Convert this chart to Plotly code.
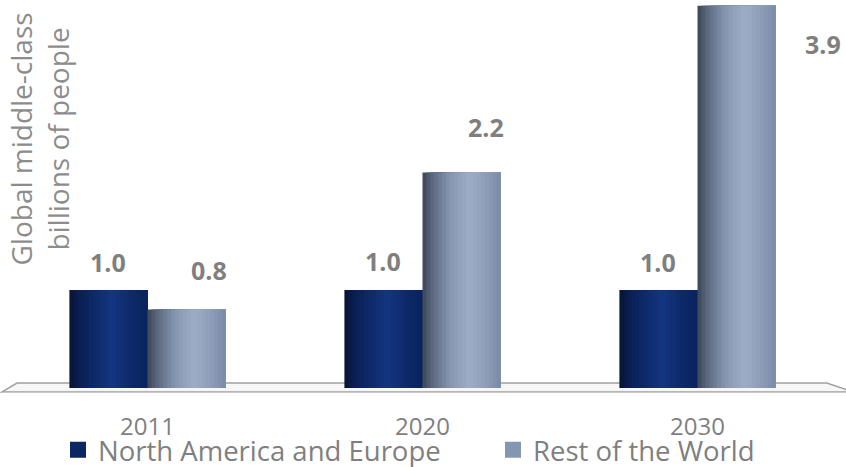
import plotly.graph_objects as go

years = ["2011", "2020", "2030"]
series_names = ["North America and Europe", "Rest of the World"]
north_america_europe = [1.0, 1.0, 1.0]
rest_of_world = [0.8, 2.2, 3.9]
label_text_na = ["1.0", "1.0", "1.0"]
label_text_row = ["0.8", "2.2", "3.9"]

# ---- styling ----
W, H = 846, 467
ML, MR, MT, MB = 10, 11, 0, 74
BAR_W = 0.284
N_STRIPS = 20
TEXT_GRAY = "#7f7f7f"
FONT = "Open Sans"

na_stops = [(0.0, "#07132f"), (0.1, "#0a1d4f"), (0.35, "#0f2b6e"),
            (0.55, "#143580"), (0.78, "#0e2a6a"), (1.0, "#0a2260")]
row_stops = [(0.0, "#3a4454"), (0.1, "#56637a"), (0.35, "#8596b1"),
             (0.6, "#9eadc7"), (0.85, "#8a9ab5"), (1.0, "#7a8aa7")]


def hex2rgb(h):
    h = h.lstrip("#")
    return tuple(int(h[i:i + 2], 16) for i in (0, 2, 4))


def interp(stops, t):
    for (t0, c0), (t1, c1) in zip(stops, stops[1:]):
        if t0 <= t <= t1:
            f = (t - t0) / (t1 - t0) if t1 > t0 else 0
            a, b = hex2rgb(c0), hex2rgb(c1)
            r = [round(a[i] + (b[i] - a[i]) * f) for i in range(3)]
            return "rgb(%d,%d,%d)" % tuple(r)
    return stops[-1][1]


fig = go.Figure()


def add_cylinder(values, start_offset, stops, name):
    sw = BAR_W / N_STRIPS
    for k in range(N_STRIPS):
        t = (k + 0.5) / N_STRIPS
        fig.add_trace(go.Bar(
            x=years, y=values, name=name,
            offset=start_offset + k * sw, width=BAR_W - k * sw,
            marker=dict(color=interp(stops, t), line=dict(width=0)),
            showlegend=False, hoverinfo="skip",
        ))


add_cylinder(north_america_europe, -BAR_W, na_stops, series_names[0])
add_cylinder(rest_of_world, 0.0, row_stops, series_names[1])

# legend entries (each in its own legend box for exact placement)
for name, col, lg in zip(series_names, ["#0c2563", "#8596b2"], ["legend", "legend2"]):
    fig.add_trace(go.Scatter(
        x=[None], y=[None], mode="markers", name=name, legend=lg,
        marker=dict(symbol="square", size=17, color=col),
    ))

# value labels
LBL_FONT = dict(family=FONT, size=25, color=TEXT_GRAY, weight="bold")
na_shift = [(0, 28), (0, 29), (0, 28)]
row_shift = [(22, 40), (24, 45), (86, -38)]
for i in range(len(years)):
    fig.add_annotation(x=i - BAR_W / 2, y=north_america_europe[i],
                       text=label_text_na[i], showarrow=False,
                       xshift=na_shift[i][0], yshift=na_shift[i][1], font=LBL_FONT)
    fig.add_annotation(x=i + BAR_W / 2, y=rest_of_world[i],
                       text=label_text_row[i], showarrow=False,
                       xshift=row_shift[i][0], yshift=row_shift[i][1], font=LBL_FONT)

# y axis title (rotated, two lines)
fig.add_annotation(xref="paper", yref="paper", x=0, y=0.645, xanchor="left",
                   yanchor="middle", xshift=-10, textangle=-90, showarrow=False,
                   text="Global middle-class<br>billions of people",
                   font=dict(family=FONT, size=28, color="#8c8c8c"))

# 3D floor
fig.add_shape(type="path", xref="paper", yref="y", layer="below",
              path="M 0.0085 0.05 L 0.990 0.05 L 1.0218 -0.04 L -0.0097 -0.04 Z",
              fillcolor="#f7f7f7", line=dict(color="#a0a0a0", width=1.5))
fig.add_shape(type="line", xref="paper", yref="y", layer="below",
              x0=-0.0097, x1=1.0218, y0=-0.048, y1=-0.048,
              line=dict(color="#c8c8c8", width=1.5))

LEG = dict(orientation="h", xanchor="left", yanchor="middle", y=-0.145,
           font=dict(family=FONT, size=27.5, color=TEXT_GRAY),
           itemsizing="trace", bgcolor="rgba(0,0,0,0)")

fig.update_layout(
    width=W, height=H,
    margin=dict(l=ML, r=MR, t=MT, b=MB, autoexpand=False),
    barmode="overlay",
    paper_bgcolor="white", plot_bgcolor="white",
    font=dict(family=FONT, color=TEXT_GRAY),
    xaxis=dict(type="category", range=[-0.5, 2.5], showgrid=False,
               showline=False, zeroline=False, ticks="outside", ticklen=12,
               tickcolor="rgba(0,0,0,0)",
               tickfont=dict(family=FONT, size=24, color=TEXT_GRAY)),
    yaxis=dict(range=[-5 / 98, 388 / 98], visible=False, showgrid=False,
               zeroline=False),
    legend=dict(LEG, x=(58 - ML) / 825),
    legend2=dict(LEG, x=(493 - ML) / 825),
    showlegend=True,
)

fig.write_html("out.html", config={"displayModeBar": False},
               post_script="document.body.style.margin='0';"
                           "document.body.style.padding='0';")
